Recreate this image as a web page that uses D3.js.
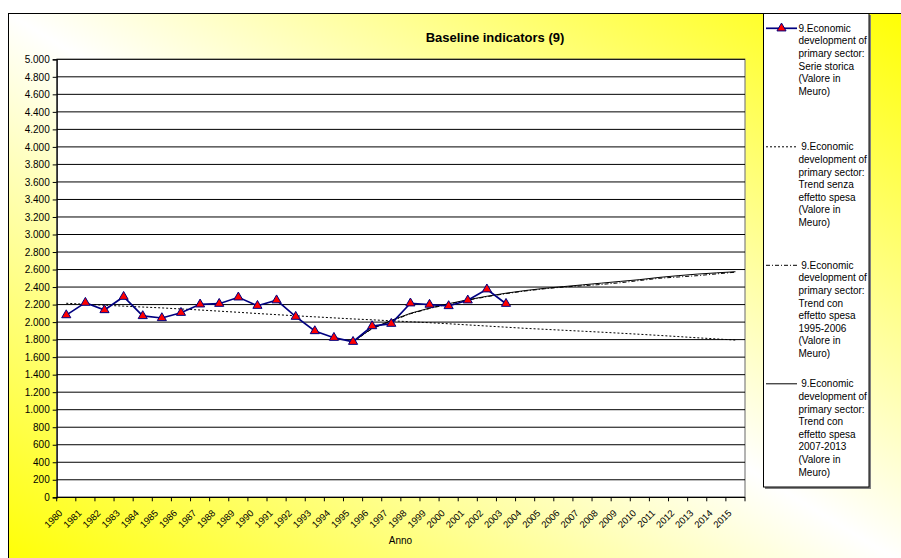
<!DOCTYPE html>
<html>
<head>
<meta charset="utf-8">
<script src="https://cdn.jsdelivr.net/npm/d3@7"></script>
<style>
  html, body { margin: 0; padding: 0; background: #fff; }
  svg { display: block; font-family: "Liberation Sans", Arial, sans-serif; }
  .pre { white-space: pre; }
</style>
</head>
<body>
<svg id="chart" width="901" height="558"></svg>
<script>
// Category axis: years
const years = ["1980","1981","1982","1983","1984","1985","1986","1987","1988","1989",
  "1990","1991","1992","1993","1994","1995","1996","1997","1998","1999",
  "2000","2001","2002","2003","2004","2005","2006","2007","2008","2009",
  "2010","2011","2012","2013","2014","2015"];

// Serie storica (Meuro), 1980-2003
const serieStorica = [2080, 2222, 2138, 2290, 2070, 2047, 2107, 2203, 2210, 2283,
  2187, 2250, 2062, 1898, 1822, 1776, 1955, 1982, 2215, 2200,
  2184, 2249, 2375, 2210];

// Trend senza effetto spesa, 1980-2015
const trendSenza = [2215, 2204, 2193, 2182, 2172, 2162, 2150, 2138, 2125, 2112,
  2098, 2085, 2072, 2060, 2048, 2036, 2026, 2015, 2004, 1993,
  1981, 1968, 1955, 1942, 1929, 1918, 1907, 1896, 1885, 1873,
  1861, 1848, 1835, 1821, 1808, 1795];

// Trend con effetto spesa 1995-2006, from 1995 to 2015
const trendCon9506Start = "1995";
const trendCon9506 = [1776, 1925, 2012, 2095, 2155, 2205, 2250, 2290, 2325, 2355,
  2380, 2400, 2415, 2430, 2450, 2475, 2500, 2515, 2530, 2550, 2570];

// Trend con effetto spesa 2007-2013, from 1995 to 2015
const trendCon0713Start = "1995";
const trendCon0713 = [1776, 1930, 2020, 2100, 2160, 2210, 2255, 2295, 2330, 2360,
  2385, 2405, 2425, 2445, 2465, 2485, 2510, 2530, 2548, 2562, 2575];

// Value axis ticks
const yTicks = [0, 200, 400, 600, 800, 1000, 1200, 1400, 1600, 1800, 2000, 2200, 2400,
  2600, 2800, 3000, 3200, 3400, 3600, 3800, 4000, 4200, 4400, 4600, 4800, 5000];

const chartTitle = "Baseline indicators (9)";
const xTitle = "Anno";

// Legend entries (wrapped text lines)
const legendSerie = ["9.Economic", "development of", "primary sector:", "Serie storica", "(Valore in", "Meuro)"];
const legendSenza = [" 9.Economic", "development of", "primary sector:", "Trend senza", "effetto spesa", "(Valore in", "Meuro)"];
const legendCon9506 = [" 9.Economic", "development of", "primary sector:", "Trend con", "effetto spesa", "1995-2006", "(Valore in", "Meuro)"];
const legendCon0713 = [" 9.Economic", "development of", "primary sector:", "Trend con", "effetto spesa", "2007-2013", "(Valore in", "Meuro)"];

const svg = d3.select("#chart");
const itFormat = d3.formatLocale({ decimal: ",", thousands: ".", grouping: [3], currency: ["€", ""] }).format(",");

// Background gradient (yellow -> white -> yellow along the rising diagonal)
const defs = svg.append("defs");
const grad = defs.append("linearGradient").attr("id", "bg")
  .attr("x1", 0).attr("y1", 1).attr("x2", 1).attr("y2", 0);
grad.append("stop").attr("offset", 0).attr("stop-color", "#ffff00");
grad.append("stop").attr("offset", 0.5).attr("stop-color", "#ffffff");
grad.append("stop").attr("offset", 1).attr("stop-color", "#ffff00");

svg.append("rect").attr("x", 8.5).attr("y", 13.5).attr("width", 910).attr("height", 560)
  .attr("fill", "url(#bg)").attr("stroke", "#000").attr("stroke-width", 1);

// Scales
const plot = { left: 56.7, right: 745, top: 59.3, bottom: 497.3 };
const x = d3.scaleBand().domain(years).range([plot.left, plot.right]);
const xc = d => x(d) + x.bandwidth() / 2;
const y = d3.scaleLinear().domain([0, 5000]).range([plot.bottom, plot.top]);

// Plot area
svg.append("rect").attr("x", plot.left).attr("y", plot.top)
  .attr("width", plot.right - plot.left).attr("height", plot.bottom - plot.top)
  .attr("fill", "#fff").attr("stroke", "#808080").attr("stroke-width", 1.2);

// Gridlines
svg.append("g").selectAll("line").data(yTicks.filter(v => v > 0))
  .join("line")
  .attr("x1", plot.left).attr("x2", plot.right)
  .attr("y1", d => y(d)).attr("y2", d => y(d))
  .attr("stroke", "#000").attr("stroke-width", 1);

// Y axis
const yAxis = d3.axisLeft(y).tickValues(yTicks).tickFormat(itFormat).tickSize(4).tickPadding(3);
const gy = svg.append("g").attr("transform", `translate(${plot.left},0)`).call(yAxis);
gy.select(".domain").attr("stroke", "#000").attr("stroke-width", 1.2);
gy.selectAll(".tick line").attr("stroke", "#000");
gy.selectAll("text").attr("font-size", 10).attr("fill", "#000")
  .attr("font-family", "'Liberation Sans', Arial, sans-serif");

// X axis: ticks at category boundaries
const gx = svg.append("g");
gx.append("line").attr("x1", plot.left).attr("x2", plot.right)
  .attr("y1", plot.bottom).attr("y2", plot.bottom).attr("stroke", "#000").attr("stroke-width", 1.2);
gx.selectAll("line.tk").data(years.concat(["end"])).join("line").attr("class", "tk")
  .attr("x1", d => d === "end" ? plot.right : x(d))
  .attr("x2", d => d === "end" ? plot.right : x(d))
  .attr("y1", plot.bottom).attr("y2", plot.bottom + 4)
  .attr("stroke", "#000");
gx.selectAll("text").data(years).join("text")
  .attr("transform", d => `translate(${xc(d) - 5.5},${plot.bottom + 14}) rotate(-45)`)
  .attr("text-anchor", "end").attr("dy", "0.35em")
  .attr("font-size", 9.5).attr("fill", "#000").text(d => d);

// Axis title and chart title
svg.append("text").attr("x", 400.5).attr("y", 544).attr("text-anchor", "middle")
  .attr("font-size", 10).attr("fill", "#000").text(xTitle);
svg.append("text").attr("x", 495).attr("y", 42).attr("text-anchor", "middle")
  .attr("font-size", 13).attr("font-weight", "bold").attr("fill", "#000").text(chartTitle);

// Series lines
const seriesPoints = (vals, start) => {
  const i0 = years.indexOf(start);
  return vals.map((v, i) => ({ year: years[i0 + i], value: v }));
};
const line = d3.line().x(d => xc(d.year)).y(d => y(d.value));

const ptsSenza = seriesPoints(trendSenza, "1980");
const pts9506 = seriesPoints(trendCon9506, trendCon9506Start);
const pts0713 = seriesPoints(trendCon0713, trendCon0713Start);
const ptsSerie = seriesPoints(serieStorica, "1980");

svg.append("path").datum(ptsSenza).attr("d", line).attr("fill", "none")
  .attr("stroke", "#000").attr("stroke-width", 1).attr("stroke-dasharray", "2,2");
svg.append("path").datum(pts9506).attr("d", line).attr("fill", "none")
  .attr("stroke", "#000").attr("stroke-width", 1).attr("stroke-dasharray", "4,2,1,2");
svg.append("path").datum(pts0713).attr("d", line).attr("fill", "none")
  .attr("stroke", "#000").attr("stroke-width", 1);
svg.append("path").datum(ptsSerie).attr("d", line).attr("fill", "none")
  .attr("stroke", "#000080").attr("stroke-width", 1.7);

const tri = d3.symbol().type(d3.symbolTriangle).size(36);
svg.append("g").selectAll("path").data(ptsSerie).join("path")
  .attr("transform", d => `translate(${xc(d.year)},${y(d.value)})`)
  .attr("d", tri).attr("fill", "#ff0000").attr("stroke", "#000080").attr("stroke-width", 1);

// Legend
const lg = svg.append("g");
lg.append("rect").attr("x", 765).attr("y", 15).attr("width", 106).attr("height", 474).attr("fill", "#808080");
lg.append("rect").attr("x", 763.5).attr("y", 13.5).attr("width", 105.5).attr("height", 473.5)
  .attr("fill", "#fff").attr("stroke", "#000").attr("stroke-width", 1);

const legendItems = [
  { lines: legendSerie, y0: 28.3, dash: null, color: "#000080", width: 1.7, marker: true },
  { lines: legendSenza, y0: 146.8, dash: "2,2", color: "#000", width: 1, marker: false },
  { lines: legendCon9506, y0: 265.3, dash: "4,2,1,2", color: "#000", width: 1, marker: false },
  { lines: legendCon0713, y0: 383.8, dash: null, color: "#000", width: 1, marker: false }
];
const lineH = 12.6;
legendItems.forEach(it => {
  lg.append("line").attr("x1", 766).attr("x2", 797).attr("y1", it.y0).attr("y2", it.y0)
    .attr("stroke", it.color).attr("stroke-width", it.width)
    .attr("stroke-dasharray", it.dash);
  if (it.marker) {
    lg.append("path").attr("transform", `translate(781.5,${it.y0})`).attr("d", tri)
      .attr("fill", "#ff0000").attr("stroke", "#000080").attr("stroke-width", 1);
  }
  lg.selectAll(null).data(it.lines).join("text").attr("class", "pre")
    .attr("x", 798.5).attr("y", (d, i) => it.y0 + i * lineH).attr("dy", "0.35em")
    .attr("font-size", 10).attr("fill", "#000").text(d => d);
});
</script>
</body>
</html>
